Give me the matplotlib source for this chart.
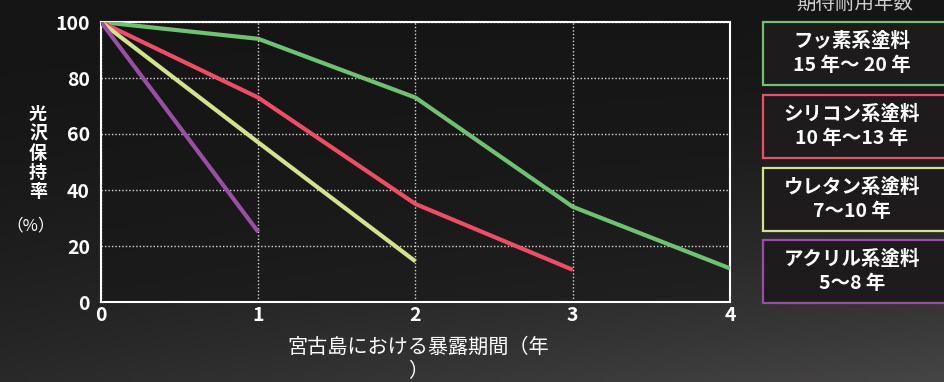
import numpy as np
import matplotlib
matplotlib.use("Agg")
import matplotlib.pyplot as plt
from matplotlib.patches import Rectangle

plt.rcParams['font.family'] = ['Noto Sans CJK JP', 'DejaVu Sans']

# ---- data ----
years = [0, 1, 2, 3, 4]
fluoro = [100, 94, 73, 34, 12]
silicone = [100, 73, 35, 11.5]
urethane = [100, 57, 14.5]
acrylic = [100, 25]

series_names = ["フッ素系塗料\n15 年〜 20 年", "シリコン系塗料\n10 年〜13 年",
                "ウレタン系塗料\n7〜10 年", "アクリル系塗料\n5〜8 年"]
series_values = [fluoro, silicone, urethane, acrylic]
colors = ["#6fc274", "#ee4d66", "#d3e38c", "#9b4ea6"]

yticks = [0, 20, 40, 60, 80, 100]
xticks = [0, 1, 2, 3, 4]
legend_title = "期待耐用年数"
xlabel = "宮古島における暴露期間（年\n）"
ylabel_chars = "光沢保持率"
ylabel_unit = "（%）"

W, H = 944, 382
fig = plt.figure(figsize=(W / 100, H / 100), dpi=100)

# background gradient
bg = fig.add_axes([0, 0, 1, 1], zorder=-10)
gx, gy = np.meshgrid(np.linspace(0, 1, 200), np.linspace(0, 1, 100))
val = 0.085 + 0.11 * gx * gy ** 1.5 + 0.08 * gy ** 2
img = np.dstack([val * 1.0, val * 0.98, val * 0.98])
bg.imshow(np.clip(img, 0, 1), extent=[0, 1, 0, 1], origin='upper', aspect='auto')
bg.set_xlim(0, 1); bg.set_ylim(0, 1)
bg.axis('off')

ax = fig.add_axes([101 / W, 1 - 302 / H, (730 - 101) / W, (302 - 22) / H])
ax.set_facecolor((0.09, 0.085, 0.085, 0.6))
for i, vals in enumerate(series_values):
    ax.plot(years[:len(vals)], vals, color=colors[i], lw=3.0, solid_capstyle='butt',
            solid_joinstyle='round', zorder=3)

ax.set_xlim(0, 4)
ax.set_ylim(0, 100)
ax.set_xticks(xticks)
ax.set_yticks(yticks)
ax.set_xticklabels([str(t) for t in xticks], color='white', fontsize=14, fontweight='bold')
ax.set_yticklabels([str(t) for t in yticks], color='white', fontsize=14, fontweight='bold')
ax.tick_params(length=0, pad=8)
ax.tick_params(axis='x', pad=3)
ax.grid(True, color='#d8d8d8', linestyle=(0, (1, 1.5)), lw=1.0)
for s in ax.spines.values():
    s.set_color('white')
    s.set_linewidth(1.5)

# x label
fig.text(418 / W, 1 - 359 / H, xlabel, color='white', fontsize=14.5, linespacing=1.2,
         ha='center', va='center')

# y label vertical stacked
fig.text(38 / W, 1 - 153 / H, "\n".join(ylabel_chars), color='white', fontsize=13,
         fontweight='bold', ha='center', va='center', linespacing=1.02)
fig.text(31 / W, 1 - 226 / H, ylabel_unit, color='white', fontsize=12,
         ha='center', va='center', family=['Noto Sans CJK TC', 'DejaVu Sans'])

# legend boxes
fig.text(855 / W, 1 - 3 / H, legend_title, color='#cfcfcf', fontsize=14,
         ha='center', va='center')
box_tops = [22, 95, 168, 240]
box_h = 63
for i, name in enumerate(series_names):
    t = box_tops[i]
    rect = Rectangle((763 / W, 1 - (t + box_h) / H), 200 / W, box_h / H,
                     transform=fig.transFigure, facecolor='#1d1b1b',
                     edgecolor=colors[i], lw=1.6, zorder=5)
    fig.add_artist(rect)
    fig.text(852 / W, 1 - (t + box_h / 2) / H, name, color='white', fontsize=14,
             fontweight='bold', ha='center', va='center', linespacing=1.3, zorder=6)

fig.savefig("out.png", dpi=100, facecolor='#1a1818')
